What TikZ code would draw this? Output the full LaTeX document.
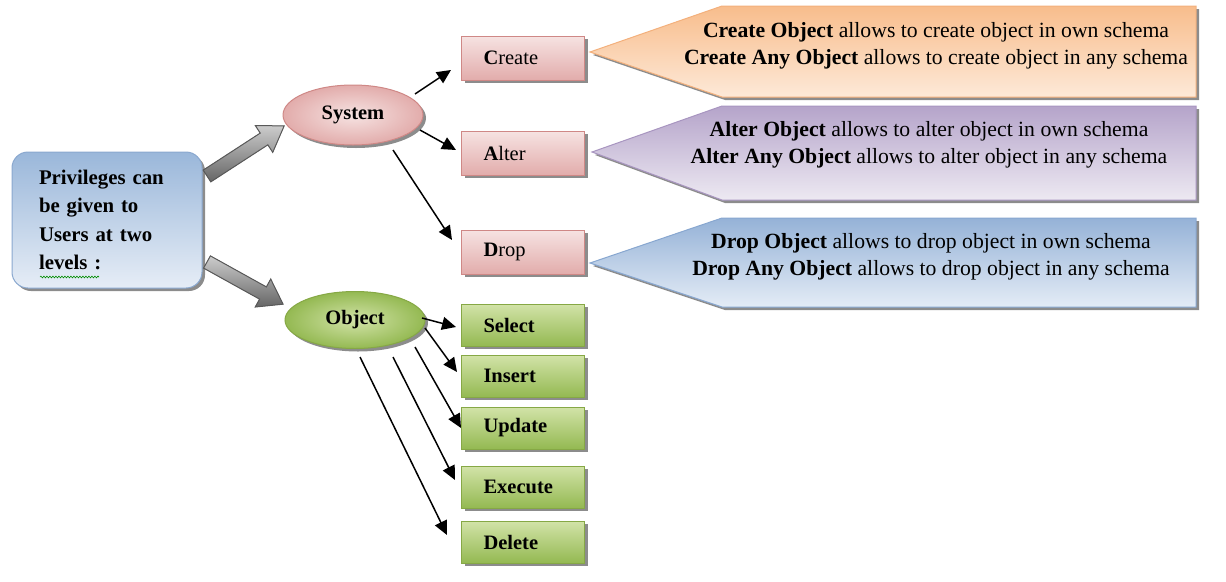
\documentclass[tikz,border=0pt]{standalone}
\usepackage{fontspec}
\setmainfont{Liberation Serif}
\usetikzlibrary{shapes.geometric,shadows,arrows.meta,decorations.pathmorphing}
\definecolor{pinkL}{HTML}{F6E3E2}
\definecolor{pinkD}{HTML}{E2ACAB}
\definecolor{pinkB}{HTML}{CF8886}
\definecolor{grnL}{HTML}{D2E3A8}
\definecolor{grnD}{HTML}{94B952}
\definecolor{grnB}{HTML}{86A845}
\definecolor{bluL}{HTML}{E6EDF6}
\definecolor{bluD}{HTML}{9AB7DA}
\definecolor{bluB}{HTML}{8AA8CF}
\definecolor{orgL}{HTML}{FDE9D8}
\definecolor{orgD}{HTML}{F8BD8C}
\definecolor{orgB}{HTML}{F3B07C}
\definecolor{purL}{HTML}{EDE9F2}
\definecolor{purD}{HTML}{B5A4CA}
\definecolor{purB}{HTML}{A895C0}
\definecolor{clbL}{HTML}{E4ECF6}
\definecolor{clbD}{HTML}{95B2D7}
\definecolor{clbB}{HTML}{88A7D0}
\tikzset{
  base/.style={font=\fontsize{20.5}{27}\selectfont},
  shad/.style={drop shadow={shadow xshift=3pt,shadow yshift=-3pt,fill=black!60,opacity=.75}},
  redbox/.style={base,shad,draw=pinkB,line width=1pt,top color=pinkL,bottom color=pinkD,
    minimum width=123pt,minimum height=44pt,text width=79pt,inner xsep=22pt,inner ysep=0pt,align=left},
  grnbox/.style={font=\fontsize{20.5}{27}\selectfont\bfseries,shad,draw=grnB,line width=1pt,top color=grnL,bottom color=grnD,
    minimum width=123pt,minimum height=42pt,text width=79pt,inner xsep=22pt,inner ysep=0pt,align=left},
  ellred/.style={font=\fontsize{20.5}{27}\selectfont\bfseries,ellipse,shad,draw=pinkB,line width=1pt,
    inner color=pinkL,outer color=pinkD,minimum width=140pt,minimum height=60pt,inner sep=0pt},
  ellgrn/.style={font=\fontsize{20.5}{27}\selectfont\bfseries,ellipse,shad,draw=grnB,line width=1pt,
    inner color=grnL,outer color=grnD,minimum width=140pt,minimum height=57pt,inner sep=0pt},
  callout/.style={shad,line width=1pt},
  ctext/.style={font=\fontsize{21.7}{27}\selectfont,align=center,inner sep=0pt},
  blk/.style={draw=black!65,line width=1pt,top color=black!20,bottom color=black!60},
  arr/.style={line width=1.5pt,-{Triangle[length=14pt,width=13pt]}},
}
\begin{document}
\begin{tikzpicture}[x=1pt,y=-1pt]
\useasboundingbox (0,0) rectangle (1226,581);

% left box
\node[shad,draw=bluB,line width=1pt,rounded corners=16pt,top color=bluD,bottom color=bluL,
  minimum width=190pt,minimum height=136pt,text width=136pt,inner xsep=27pt,align=left,
  font=\fontsize{20.8}{28.3}\selectfont\bfseries] (priv) at (107,220)
  {Privileges can\\be given to\\Users at two\\levels :};
\draw[green!55!black,line width=0.6pt,decorate,decoration={snake,amplitude=0.9pt,segment length=3pt}]
  ([shift={(-67,57)}]priv.center) -- ([shift={(-8,57)}]priv.center);

% block arrows
\begin{scope}[shift={(207,176)},rotate=33]
  \filldraw[blk] (0,7) -- (68,7) -- (68,16) -- (92,0) -- (68,-16) -- (68,-7) -- (0,-7) -- cycle;
\end{scope}
\begin{scope}[shift={(207,262)},rotate=-29]
  \filldraw[blk] (0,7) -- (64,7) -- (64,16) -- (87,0) -- (64,-16) -- (64,-7) -- (0,-7) -- cycle;
\end{scope}

% ellipses
\node[ellred] (sys) at (353,115) {System};
\node[ellgrn] (obj) at (355,320) {Object};

% system boxes
\node[redbox] (create) at (523,58) {\textbf{C}reate};
\node[redbox] (alter) at (523,153) {\textbf{A}lter};
\node[redbox] (drop) at (523,252) {\textbf{D}rop};

% object boxes
\node[grnbox] (select) at (523,325) {Select};
\node[grnbox] (insert) at (523,376) {Insert};
\node[grnbox] (update) at (523,428) {Update};
\node[grnbox] (execute) at (523,487) {Execute};
\node[grnbox] (delete) at (523,542) {Delete};

% arrows from System
\draw[arr] ([shift={(62,-21)}]sys.center) -- ([shift={(-10,12)}]create.west);
\draw[arr] ([shift={(67,15)}]sys.center) -- ([shift={(-5,-3)}]alter.west);
\draw[arr] ([shift={(40,35)}]sys.center) -- ([shift={(-9,-12)}]drop.west);

% arrows from Object
\draw[arr] ([shift={(67,-2)}]obj.center) -- ([shift={(-5,2)}]select.west);
\draw[arr] ([shift={(70,8)}]obj.center) -- ([shift={(-4,-4)}]insert.west);
\draw[arr] ([shift={(60,27)}]obj.center) -- ([shift={(0,0)}]update.west);
\draw[arr] ([shift={(38,37)}]obj.center) -- ([shift={(-6,-7)}]execute.west);
\draw[arr] ([shift={(5,37)}]obj.center) -- ([shift={(-14,-7)}]delete.west);

% callouts
\path[callout,draw=orgB,top color=orgD,bottom color=orgL]
  (590,52) -- (722,6) -- (1196,6) -- (1196,97) -- (722,97) -- cycle;
\node[ctext] (ctc) at (936,46) {\textbf{Create Object} allows to create object in own schema\\
  \textbf{Create Any Object} allows to create object in any schema};

\path[callout,draw=purB,top color=purD,bottom color=purL]
  (592,152) -- (722,106) -- (1196,106) -- (1196,200) -- (722,200) -- cycle;
\node[ctext] (cta) at (929,145) {\textbf{Alter Object} allows to alter object in own schema\\
  \textbf{Alter Any Object} allows to alter object in any schema};

\path[callout,draw=clbB,top color=clbD,bottom color=clbL]
  (590,263) -- (722,218) -- (1196,218) -- (1196,307) -- (722,307) -- cycle;
\node[ctext] (ctd) at (931,257) {\textbf{Drop Object} allows to drop object in own schema\\
  \textbf{Drop Any Object} allows to drop object in any schema};
\end{tikzpicture}
\end{document}
